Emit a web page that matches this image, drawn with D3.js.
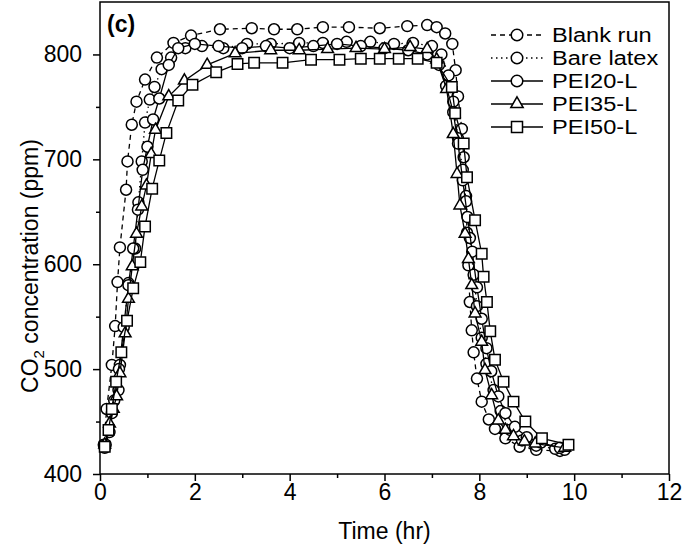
<!DOCTYPE html>
<html>
<head>
<meta charset="utf-8">
<script src="https://cdn.jsdelivr.net/npm/d3@7"></script>
<style>
  html, body { margin: 0; padding: 0; background: #fff; }
  text { font-family: "Liberation Sans", Arial, Helvetica, sans-serif; fill: #000; }
</style>
</head>
<body>
<svg id="chart" width="686" height="550"></svg>
<script>
// ---------- data ----------
const xTicks = [0, 2, 4, 6, 8, 10, 12];
const yTicks = [400, 500, 600, 700, 800];
const seriesNames = ["Blank run", "Bare latex", "PEI20-L", "PEI35-L", "PEI50-L"];

const blankT = [0.08, 0.14, 0.25, 0.32, 0.37, 0.42, 0.55, 0.58, 0.67, 0.77, 0.95, 1.2, 1.55, 1.92, 2.53, 3.2, 3.67, 4.16, 4.7, 5.25, 5.9, 6.48, 6.9, 7.1, 7.28, 7.43, 7.5, 7.55, 7.63, 7.67, 7.72, 7.74, 7.77, 7.8, 7.84, 7.88, 7.95, 8.05, 8.2, 8.33, 8.55, 8.85, 9.2, 9.7];
const blankV = [428, 462, 504, 541, 583, 616, 671, 698, 733, 755, 776, 797, 811, 818, 824, 825, 824, 824, 826, 826, 825, 827, 828, 826, 820, 810, 785, 760, 729, 702, 665, 630, 599, 564, 537, 516, 491, 469, 452, 443, 434, 426, 423, 422];

const bareT = [0.12, 0.25, 0.39, 0.42, 0.6, 0.74, 0.81, 0.88, 0.95, 1.05, 1.15, 1.3, 1.5, 1.8, 2.15, 2.6, 3.1, 3.6, 4.2, 4.7, 5.2, 5.7, 6.2, 6.6, 7.0, 7.2, 7.35, 7.45, 7.55, 7.65, 7.72, 7.8, 7.88, 7.95, 8.05, 8.15, 8.3, 8.45, 8.65, 8.9, 9.2, 9.6, 9.8];
const bareV = [428, 458, 480, 504, 582, 615, 659, 698, 735, 757, 769, 786, 797, 806, 808, 806, 810, 810, 811, 811, 812, 812, 810, 811, 808, 800, 780, 755, 720, 690, 660, 625, 590, 560, 530, 505, 480, 460, 442, 432, 427, 424, 423];

const pei20T = [0.1, 0.2, 0.3, 0.4, 0.5, 0.6, 0.7, 0.8, 0.9, 1.0, 1.12, 1.25, 1.45, 1.65, 2.0, 2.5, 3.0, 3.5, 4.0, 4.5, 5.0, 5.5, 6.0, 6.5, 6.9, 7.15, 7.3, 7.45, 7.55, 7.65, 7.75, 7.85, 7.95, 8.05, 8.15, 8.25, 8.4, 8.55, 8.75, 9.0, 9.3, 9.7];
const pei20V = [425, 440, 470, 500, 540, 580, 615, 652, 690, 712, 738, 758, 790, 806, 810, 808, 806, 808, 806, 808, 810, 808, 806, 804, 800, 790, 770, 745, 715, 680, 645, 612, 578, 548, 520, 498, 474, 458, 445, 435, 430, 425];

const pei35T = [0.1, 0.2, 0.28, 0.35, 0.42, 0.53, 0.6, 0.68, 0.77, 0.88, 0.98, 1.08, 1.17, 1.45, 1.78, 2.26, 2.85, 3.6, 4.2, 4.8, 5.4, 6.0, 6.54, 6.9, 7.1, 7.31, 7.45, 7.53, 7.59, 7.7, 7.77, 7.84, 7.91, 8.05, 8.12, 8.26, 8.4, 8.55, 8.72, 8.95, 9.18, 9.8];
const pei35V = [428, 448, 462, 474, 496, 534, 567, 598, 629, 655, 675, 705, 728, 760, 775, 790, 801, 804, 804, 805, 806, 805, 807, 805, 795, 767, 724, 686, 656, 629, 605, 580, 553, 526, 499, 475, 451, 442, 436, 431, 429, 425];

const pei50T = [0.1, 0.18, 0.25, 0.34, 0.45, 0.57, 0.7, 0.85, 0.95, 1.1, 1.25, 1.4, 1.65, 1.95, 2.45, 2.9, 3.25, 3.85, 4.45, 5.05, 5.5, 5.9, 6.3, 6.7, 7.1, 7.42, 7.49, 7.67, 7.74, 7.91, 8.05, 8.09, 8.16, 8.23, 8.33, 8.51, 8.72, 8.97, 9.32, 9.88];
const pei50V = [426, 442, 462, 488, 516, 546, 577, 602, 636, 672, 699, 725, 756, 771, 783, 791, 792, 792, 795, 795, 796, 796, 796, 796, 792, 769, 744, 715, 683, 642, 610, 588, 564, 536, 509, 488, 469, 450, 434, 428];

// ---------- layout ----------
const svg = d3.select("#chart");
const x = d3.scaleLinear().domain([0, 12]).range([100, 669]);
const y = d3.scaleLinear().domain([400, 850]).range([474, 2]);
const FONT = 23;

// axes
const xAxis = svg.append("g").attr("transform", `translate(0,${y(400)})`)
  .call(d3.axisBottom(x).tickValues(xTicks).tickSize(7).tickPadding(3).tickFormat(d3.format("d")));
const xMinor = svg.append("g").attr("transform", `translate(0,${y(400)})`)
  .call(d3.axisBottom(x).tickValues(d3.range(1, 12, 2)).tickSize(4).tickFormat(""));
const yAxis = svg.append("g").attr("transform", `translate(${x(0)},0)`)
  .call(d3.axisLeft(y).tickValues(yTicks).tickSize(7).tickPadding(11).tickFormat(d3.format("d")));
const yMinor = svg.append("g").attr("transform", `translate(${x(0)},0)`)
  .call(d3.axisLeft(y).tickValues(d3.range(450, 850, 100)).tickSize(4).tickFormat(""));
[xAxis, xMinor, yAxis, yMinor].forEach(g => {
  g.select(".domain").remove();
  g.selectAll("line").attr("stroke", "#000").attr("stroke-width", 1.5);
  g.selectAll("text").style("font-size", FONT + "px").attr("fill", "#000")
    .style("font-family", '"Liberation Sans", Arial, sans-serif');
});
xAxis.selectAll("text").attr("dy", "0.71em");

// frame
svg.append("rect").attr("x", x(0)).attr("y", y(850))
  .attr("width", x(12) - x(0)).attr("height", y(400) - y(850))
  .attr("fill", "none").attr("stroke", "#000").attr("stroke-width", 1.5);

// titles
svg.append("text").attr("x", (x(0) + x(12)) / 2).attr("y", 539)
  .attr("text-anchor", "middle").style("font-size", FONT + "px").text("Time (hr)");
const yl = svg.append("text").attr("transform", `translate(38,${(y(400) + y(850)) / 2 + 28}) rotate(-90)`)
  .attr("text-anchor", "middle").style("font-size", FONT + "px");
yl.append("tspan").text("CO");
yl.append("tspan").attr("dy", 6).style("font-size", "15px").text("2");
yl.append("tspan").attr("dy", -6).text(" concentration (ppm)");

svg.append("text").attr("x", 107).attr("y", 32).style("font-size", FONT + "px")
  .style("font-weight", "bold").text("(c)");

// ---------- series ----------
const series = [
  { name: seriesNames[0], t: blankT, v: blankV, dash: "5,4", sym: d3.symbolCircle, size: 95 },
  { name: seriesNames[1], t: bareT, v: bareV, dash: "1.5,3.5", sym: d3.symbolCircle, size: 95 },
  { name: seriesNames[2], t: pei20T, v: pei20V, dash: null, sym: d3.symbolCircle, size: 95 },
  { name: seriesNames[3], t: pei35T, v: pei35V, dash: null, sym: d3.symbolTriangle, size: 60 },
  { name: seriesNames[4], t: pei50T, v: pei50V, dash: null, sym: d3.symbolSquare, size: 110 }
];

const line = d3.line().x(d => x(d[0])).y(d => y(d[1]));
series.forEach(s => {
  const pts = s.t.map((t, i) => [t, s.v[i]]);
  const g = svg.append("g");
  g.append("path").datum(pts).attr("d", line)
    .attr("fill", "none").attr("stroke", "#000").attr("stroke-width", 1.3)
    .attr("stroke-dasharray", s.dash);
  g.selectAll("path.m").data(pts).enter().append("path").attr("class", "m")
    .attr("transform", d => `translate(${x(d[0])},${y(d[1])})`)
    .attr("d", d3.symbol().type(s.sym).size(s.size))
    .attr("fill", "#fff").attr("stroke", "#000").attr("stroke-width", 1.5);
});

// ---------- legend ----------
const LFONT = 20;
const lg = svg.append("g");
series.forEach((s, i) => {
  const cy = 35 + i * 23;
  lg.append("line").attr("x1", 491).attr("x2", 543).attr("y1", cy).attr("y2", cy)
    .attr("stroke", "#000").attr("stroke-width", 1.3).attr("stroke-dasharray", s.dash);
  lg.append("path").attr("transform", `translate(517,${cy})`)
    .attr("d", d3.symbol().type(s.sym).size(s.size * 1.1))
    .attr("fill", "#fff").attr("stroke", "#000").attr("stroke-width", 1.5);
  const t = lg.append("text").attr("x", 552).attr("y", cy + 7).style("font-size", LFONT + "px").text(s.name);
  const w = t.node().getComputedTextLength();
  t.attr("textLength", w * 1.18).attr("lengthAdjust", "spacingAndGlyphs");
});
</script>
</body>
</html>
